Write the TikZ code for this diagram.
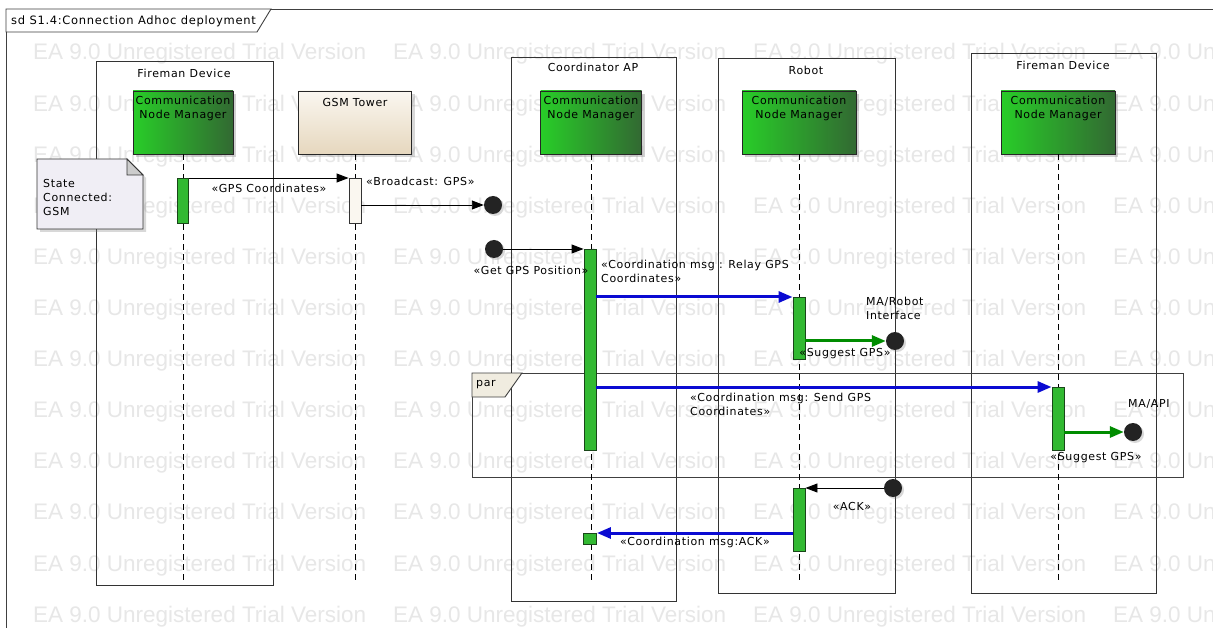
\documentclass[tikz,border=0pt]{standalone}
\usepackage{fontspec}
\setmainfont{DejaVu Sans}[LetterSpace=6]
\newfontfamily\wmfont{Liberation Sans}
\usetikzlibrary{arrows.meta,shadows,calc}
\definecolor{actgreen}{RGB}{50,185,50}
\definecolor{actborder}{RGB}{25,70,25}
\definecolor{cnmlight}{RGB}{40,205,40}
\definecolor{cnmdark}{RGB}{50,105,50}
\definecolor{msgblue}{RGB}{10,10,210}
\definecolor{msggreen}{RGB}{0,140,0}
\definecolor{dotgray}{RGB}{35,35,35}
\definecolor{notefill}{RGB}{240,238,245}
\definecolor{gsmtop}{RGB}{250,247,240}
\definecolor{gsmbot}{RGB}{230,215,190}
\definecolor{tabfill}{RGB}{240,236,224}
\definecolor{wmgray}{RGB}{231,231,231}
\begin{document}
\begin{tikzpicture}[x=1pt,y=-1pt,
  lbl/.style={font=\fontsize{11}{14}\selectfont, inner sep=0pt, align=center},
  lbll/.style={font=\fontsize{11}{14}\selectfont, inner sep=0pt, align=left, anchor=west},
  wm/.style={font=\wmfont\fontsize{22.5}{24}\selectfont, text=wmgray, inner sep=0pt, anchor=base west},
  frame/.style={draw=black!75, line width=0.9pt},
  container/.style={draw=black!80, line width=0.9pt, inner sep=0pt, anchor=north west},
  cnmbox/.style={draw=black!85, line width=0.9pt, inner sep=0pt, minimum height=63pt,
     left color=cnmlight, right color=cnmdark,
     drop shadow={opacity=0.35, shadow xshift=3pt, shadow yshift=-3pt}},
  gsmbox/.style={draw=black!85, line width=0.9pt, inner sep=0pt, minimum height=63pt,
     top color=gsmtop, bottom color=gsmbot,
     drop shadow={opacity=0.3, shadow xshift=3pt, shadow yshift=-3pt}},
  lifeline/.style={draw=black, line width=0.9pt, dash pattern=on 6pt off 4pt},
  act/.style={draw=actborder, fill=actgreen, line width=0.9pt, inner sep=0pt, minimum width=12pt, anchor=north},
  gact/.style={draw=black!80, fill=gsmtop, line width=0.9pt, inner sep=0pt, minimum width=12pt, anchor=north},
  dot/.style={circle, fill=dotgray, inner sep=0pt, minimum size=18pt,
     drop shadow={opacity=0.3, shadow xshift=2pt, shadow yshift=-2pt}},
  msg/.style={draw=black, line width=0.9pt, -{Triangle[length=12pt,width=9pt]}},
  bmsg/.style={draw=msgblue, line width=3pt, -{Triangle[length=14pt,width=11pt]}},
  gmsg/.style={draw=msggreen, line width=3pt, -{Triangle[length=14pt,width=11pt]}}
]
\useasboundingbox (0,0) rectangle (1213,628);
\clip (0,0) rectangle (1213,628);
\fill[white] (0,0) rectangle (1213,628);
% watermark
\foreach \k in {0,...,11}{
  \foreach \j in {0,...,3}{
    \node[wm] (wm-\j-\k) at ({33+360*\j},{60+51.1*\k}) {EA 9.0 Unregistered Trial Version};
  }
}
% outer frame
\draw[frame] (6,9) rectangle (1260,680);
\draw[frame, fill=white] (6,9) -- (271,9) -- (257,32) -- (6,32) -- cycle;
\node[lbll, font=\fontsize{11.5}{14}\selectfont] (title) at (11,21) {sd S1.4:Connection Adhoc deployment};

% containers
\node[container, minimum width=177pt, minimum height=524pt] (fd1) at (96,61) {};
\node[container, minimum width=165pt, minimum height=544pt] (co) at (511,57) {};
\node[container, minimum width=177pt, minimum height=535pt] (rb) at (718,58) {};
\node[container, minimum width=185pt, minimum height=540pt] (fd2) at (971,53) {};
\node[lbl] (fd1t) at (184,73) {Fireman Device};
\node[lbl] (cot) at (593,67) {Coordinator AP};
\node[lbl] (rbt) at (806,70) {Robot};
\node[lbl] (fd2t) at (1063,65) {Fireman Device};

% par fragment
\draw[frame] (472,373) rectangle (1183,477);
\draw[frame, fill=tabfill] (472,373) -- (522,373) -- (505,397) -- (472,397) -- cycle;
\node[lbll] (part) at (476,385) {par};

% note
\filldraw[draw=black!80, line width=0.9pt, fill=notefill,
  drop shadow={opacity=0.3, shadow xshift=3pt, shadow yshift=-3pt}]
  (37,159) -- (127,159) -- (143,175) -- (143,229) -- (37,229) -- cycle;
\filldraw[draw=black!80, line width=0.9pt, fill=black!20] (127,159) -- (127,175) -- (143,175) -- cycle;
\node[lbll, align=left] (notet) at (43,197) {State\\Connected:\\GSM};

% heads
\node[cnmbox, minimum width=100pt] (c1) at (183,122.5) {};
\node[gsmbox, minimum width=113pt] (cg) at (355,122.5) {};
\node[cnmbox, minimum width=101pt] (cc) at (591,122.5) {};
\node[cnmbox, minimum width=114pt] (cr) at (799,122.5) {};
\node[cnmbox, minimum width=114pt] (cf) at (1058,122.5) {};
\node[lbl] (c1t) at (183,108.5) {Communication\\Node Manager};
\node[lbl] (cgt) at (355,102) {GSM Tower};
\node[lbl] (cct) at (591,108.5) {Communication\\Node Manager};
\node[lbl] (crt) at (799,108.5) {Communication\\Node Manager};
\node[lbl] (cft) at (1058,108.5) {Communication\\Node Manager};

% lifeline ends
\coordinate (e1) at (183,583);
\coordinate (eg) at (355,583);
\coordinate (ec) at (591,583);
\coordinate (er) at (799,583);
\coordinate (ef) at (1058,583);
\draw[lifeline] (c1.south) -- (e1);
\draw[lifeline] (cg.south) -- (eg);
\draw[lifeline] (cc.south) -- (ec);
\draw[lifeline] (cr.south) -- (er);
\draw[lifeline] (cf.south) -- (ef);

% activations
\node[act, minimum width=11pt, minimum height=45pt] (a1) at (183,178) {};
\node[gact, minimum height=45pt] (ag) at (355,178) {};
\node[act, minimum height=201pt] (ac) at (590,249) {};
\node[act, minimum height=62pt] (ar) at (799,297) {};
\node[act, minimum height=63pt] (af) at (1058,387) {};
\node[act, minimum height=63pt] (ar2) at (799,488) {};
\node[act, minimum width=13pt, minimum height=11pt] (ac2) at (590,533) {};

% end points
\node[dot] (lost) at (493,205) {};
\node[dot] (found) at (494,249) {};
\node[dot] (ma1) at (895,341) {};
\node[dot] (ma2) at (1133,432) {};
\node[dot] (ackc) at (893,488) {};

% messages
\draw[msg] (a1.north east) -- (ag.north west);
\node[lbl] (m1) at (269,188) {«GPS Coordinates»};
\draw[msg] (ag.east |- lost) -- (lost);
\node[lbll] (m2) at (366,181) {«Broadcast: GPS»};
\draw[msg] (found) -- (ac.north west);
\node[lbl] (m3) at (531,270) {«Get GPS Position»};
\draw[bmsg] (ac.east |- ar.north) -- (ar.north west);
\node[lbll] (m4) at (601,271) {«Coordination msg : Relay GPS\\Coordinates»};
\draw[gmsg] (ar.east |- ma1) -- (ma1);
\node[lbll] (ma1t) at (866,308) {MA/Robot\\Interface};
\node[lbl] (m5) at (845,354) {«Suggest GPS»};
\draw[bmsg] (ac.east |- af.north) -- (af.north west);
\node[lbll] (m6) at (690,404) {«Coordination msg: Send GPS\\Coordinates»};
\draw[gmsg] (af.east |- ma2) -- (ma2);
\node[lbll] (ma2t) at (1128,404) {MA/API};
\node[lbl] (m7) at (1096,458) {«Suggest GPS»};
\draw[msg] (ackc) -- (ar2.north east);
\node[lbl] (m8) at (852,506) {«ACK»};
\draw[bmsg] (ar2.west |- ac2.north) -- (ac2.north east);
\node[lbl] (m9) at (695,542) {«Coordination msg:ACK»};
\end{tikzpicture}
\end{document}
